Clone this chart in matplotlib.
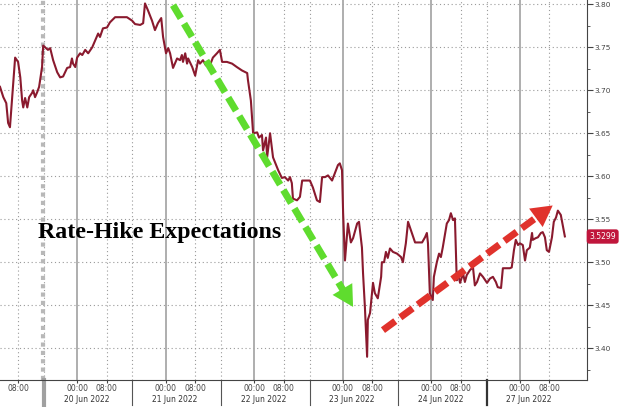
import numpy as np
import matplotlib.pyplot as plt
from matplotlib.transforms import blended_transform_factory

# hours after 20 Jun 2022 00:00, weekend squeezed out (27 Jun 00:00 = 120)
hours = [-20.9, -20.0, -19.2, -18.7, -18.2, -17.6, -17.1, -16.8, -16.0, -15.4,
         -14.9, -14.6, -14.1, -13.5, -13.0, -12.2, -11.9, -11.4, -10.8, -10.3,
         -9.5, -9.2, -8.4, -7.9, -7.3, -6.5, -5.4, -4.6, -3.8, -2.7,
         -1.9, -1.4, -1.1, -0.5, 0.0, 0.8, 1.4, 2.2, 3.0, 4.1,
         4.9, 5.7, 6.2, 7.0, 8.1, 8.9, 10.3, 11.6, 13.5, 14.9,
         15.7, 17.1, 17.9, 18.4, 19.2, 20.3, 21.1, 21.9, 22.8, 23.3,
         24.1, 24.7, 25.2, 26.0, 27.1, 27.9, 28.4, 28.7, 29.3, 29.8,
         30.1, 31.2, 32.0, 32.8, 33.3, 34.1, 34.9, 36.0, 36.8, 37.9,
         38.7, 39.3, 40.6, 42.0, 43.3, 44.7, 46.1, 46.3, 47.1, 47.7,
         48.8, 49.3, 50.1, 50.4, 51.2, 51.5, 52.3, 53.1, 54.5, 55.5,
         56.3, 57.2, 57.7, 58.2, 58.5, 59.6, 60.4, 61.0, 62.3, 63.1,
         63.9, 65.0, 65.8, 66.4, 67.2, 68.0, 69.1, 69.9, 70.7, 71.2,
         71.8, 72.1, 72.6, 73.4, 74.2, 74.8, 75.9, 76.4, 77.2, 77.5,
         78.0, 78.6, 78.8, 79.4, 80.2, 80.7, 81.5, 82.4, 82.6, 83.2,
         83.7, 84.2, 84.8, 85.6, 86.7, 87.8, 88.3, 89.1, 89.7, 90.5,
         91.0, 91.6, 92.4, 93.5, 94.3, 94.8, 95.1, 95.6, 96.4, 96.7,
         97.5, 98.1, 98.6, 99.1, 100.2, 100.8, 101.3, 101.9, 102.4, 102.9,
         103.2, 103.8, 104.6, 105.1, 105.6, 106.5, 107.3, 107.8, 108.4, 109.2,
         110.0, 111.1, 111.9, 112.7, 113.5, 114.0, 114.9, 115.4, 116.5, 117.3,
         117.8, 118.4, 118.9, 119.5, 120.0, 120.8, 121.4, 121.9, 122.7, 123.3,
         123.5, 124.3, 124.9, 125.7, 126.2, 126.8, 127.3, 127.9, 128.7, 129.2,
         129.8, 130.3, 131.1, 131.7, 132.2]
rate = [3.704, 3.692, 3.685, 3.662, 3.657, 3.692, 3.720, 3.738, 3.733, 3.715,
        3.688, 3.680, 3.691, 3.680, 3.692, 3.697, 3.700, 3.692, 3.698, 3.704,
        3.727, 3.752, 3.749, 3.747, 3.749, 3.735, 3.721, 3.715, 3.716, 3.726,
        3.727, 3.737, 3.731, 3.727, 3.738, 3.743, 3.741, 3.747, 3.743, 3.750,
        3.758, 3.766, 3.762, 3.772, 3.773, 3.779, 3.785, 3.785, 3.785, 3.781,
        3.777, 3.776, 3.778, 3.801, 3.793, 3.781, 3.770, 3.778, 3.784, 3.762,
        3.743, 3.749, 3.743, 3.726, 3.737, 3.735, 3.741, 3.733, 3.743, 3.731,
        3.737, 3.727, 3.717, 3.735, 3.731, 3.735, 3.729, 3.729, 3.738, 3.743,
        3.747, 3.733, 3.733, 3.731, 3.727, 3.723, 3.720, 3.712, 3.688, 3.650,
        3.651, 3.645, 3.648, 3.630, 3.645, 3.622, 3.650, 3.622, 3.607, 3.598,
        3.599, 3.595, 3.599, 3.592, 3.574, 3.572, 3.576, 3.595, 3.595, 3.595,
        3.587, 3.572, 3.570, 3.599, 3.599, 3.601, 3.595, 3.604, 3.613, 3.615,
        3.607, 3.557, 3.502, 3.545, 3.523, 3.528, 3.545, 3.547, 3.517, 3.487,
        3.448, 3.390, 3.433, 3.441, 3.476, 3.464, 3.458, 3.483, 3.500, 3.500,
        3.512, 3.505, 3.516, 3.512, 3.510, 3.506, 3.500, 3.522, 3.547, 3.537,
        3.531, 3.523, 3.523, 3.523, 3.529, 3.534, 3.522, 3.464, 3.456, 3.483,
        3.500, 3.510, 3.506, 3.517, 3.545, 3.549, 3.557, 3.549, 3.551, 3.479,
        3.487, 3.476, 3.487, 3.477, 3.485, 3.491, 3.494, 3.473, 3.477, 3.487,
        3.483, 3.476, 3.481, 3.483, 3.477, 3.471, 3.470, 3.493, 3.493, 3.493,
        3.494, 3.514, 3.526, 3.520, 3.522, 3.520, 3.502, 3.514, 3.517, 3.534,
        3.526, 3.528, 3.529, 3.534, 3.535, 3.529, 3.514, 3.512, 3.529, 3.547,
        3.552, 3.560, 3.555, 3.541, 3.530]

day_labels = ['20 Jun 2022', '21 Jun 2022', '22 Jun 2022',
              '23 Jun 2022', '24 Jun 2022', '27 Jun 2022']
y_ticks = [3.40, 3.45, 3.50, 3.55, 3.60, 3.65, 3.70, 3.75, 3.80]
last_value = 3.5299
title = 'Rate-Hike Expectations'

# (start, tip) of the two hand-drawn trend arrows
green_arrow = [(26.0, 3.799), (74.8, 3.448)]
red_arrow = [(82.9, 3.421), (128.9, 3.566)]

fig = plt.figure(figsize=(6.2, 4.07), dpi=100)
ax = fig.add_axes([0, 27/407, 587/620, 380/407])
ax.set_xlim(-20.9, 138.2)
ax.set_ylim(3.363, 3.805)

# grid
for v in y_ticks:
    ax.axhline(v, color='#9a9a9a', lw=0.8, ls=(0, (1, 2.5)), zorder=1)
for k in range(-1, 6):
    ax.axvline(24*k + 8, color='#9a9a9a', lw=0.8, ls=(0, (1, 2.5)), zorder=1)
    if k < 5:
        ax.axvline(24*k + 15, color='#9a9a9a', lw=0.8, ls=(0, (1, 2.5)), zorder=1)
    if k >= 0:
        ax.axvline(24*k, color='#a8a8a8', lw=1.3, zorder=1)
ax.axvline(-9.3, color='#b8b8b8', lw=3, ls=(0, (1, 1)), zorder=1)

# the series
ax.plot(hours, rate, color='#8a1a2e', lw=1.5, zorder=3)

# trend arrows: dashed shaft plus a filled head
def trend_arrow(pts, color):
    (x0, y0), (x1, y1) = pts
    p0 = ax.transData.transform((x0, y0))
    p1 = ax.transData.transform((x1, y1))
    d = (p1 - p0) / np.hypot(*(p1 - p0))
    back = ax.transData.inverted().transform(p1 - d*20)
    ax.plot([x0, back[0]], [y0, back[1]], color=color, lw=5,
            ls=(0, (2.2, 0.9)), dash_capstyle='butt', zorder=4)
    ax.annotate('', xy=(x1, y1), xytext=back,
                arrowprops=dict(arrowstyle='-|>,head_length=1.0,head_width=0.55',
                                mutation_scale=15, fc=color, ec=color, lw=0,
                                shrinkA=0, shrinkB=0), zorder=4)

trend_arrow(green_arrow, '#5fdc2e')
trend_arrow(red_arrow, '#e0322c')

ax.text(-10.7, 3.534, title, family='Liberation Serif', fontweight='bold',
        fontsize=17.2, color='black', va='center', ha='left', zorder=5)

# axes look
for s in ['left', 'top']:
    ax.spines[s].set_visible(False)
ax.spines['right'].set_color('#444444')
ax.spines['bottom'].set_color('#444444')
ax.yaxis.tick_right()
ax.set_yticks(y_ticks)
ax.set_yticklabels(['%.2f' % v for v in y_ticks])
ax.set_yticks(np.arange(3.375, 3.80, 0.05), minor=True)
ax.tick_params(axis='y', which='major', direction='out', length=4, pad=1.5,
               labelsize=5.3, colors='#444444')
ax.tick_params(axis='y', which='minor', direction='out', length=2, colors='#444444')

xt, xl = [-16], ['08:00']
for k in range(6):
    xt += [24*k, 24*k + 8]
    xl += ['00:00', '08:00']
ax.set_xticks(xt)
ax.set_xticklabels(xl)
ax.tick_params(axis='x', direction='out', length=2, pad=0.8, labelsize=5.5,
               colors='#444444')

trans = blended_transform_factory(ax.transData, ax.transAxes)
for k, lab in enumerate(day_labels):
    ax.text(24*k + 2.5, -0.052, lab, transform=trans, fontsize=5.5,
            color='#333333', ha='center', va='center')
for k in range(-1, 5):
    if k == -1:
        c, w = '#a0a0a0', 3
    elif k == 4:
        c, w = '#333333', 1.6
    else:
        c, w = '#555555', 0.8
    ax.plot([24*k + 15, 24*k + 15], [0, -0.065], transform=trans, color=c,
            lw=w, clip_on=False)

ax.text(1.004, last_value, '%.4f' % last_value,
        transform=blended_transform_factory(ax.transAxes, ax.transData),
        fontsize=5.5, color='white', va='center', ha='left',
        bbox=dict(boxstyle='round,pad=0.35', fc='#c0163c', ec='none'))

fig.savefig('out.png', dpi=100)
